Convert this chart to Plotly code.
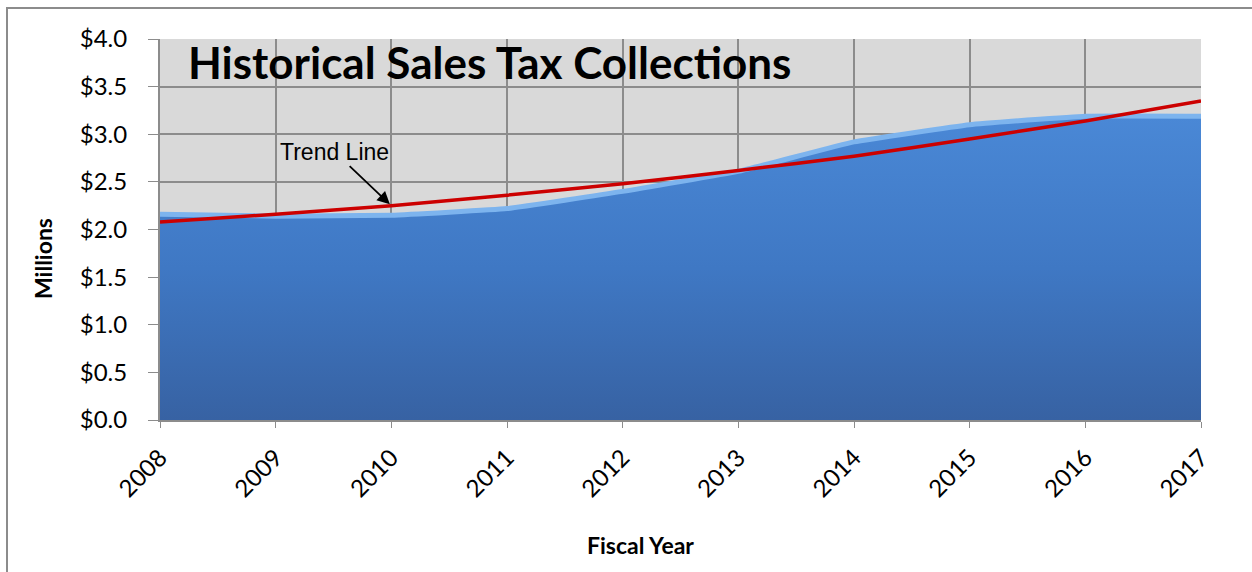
import plotly.graph_objects as go

years = [2008, 2009, 2010, 2011, 2012, 2013, 2014, 2015, 2016, 2017]
collections = [2.16, 2.14, 2.15, 2.22, 2.40, 2.61, 2.92, 3.10, 3.19, 3.19]
trend = [2.08, 2.16, 2.25, 2.36, 2.48, 2.62, 2.77, 2.95, 3.14, 3.35]
y_ticks = [0, 0.5, 1.0, 1.5, 2.0, 2.5, 3.0, 3.5, 4.0]
y_tick_labels = ["$0.0", "$0.5", "$1.0", "$1.5", "$2.0", "$2.5", "$3.0", "$3.5", "$4.0"]

W, H = 1252, 572
ml, mr, mt, mb = 160, 51, 39, 152
pw, ph = W - ml - mr, H - mt - mb

def px_x(x):
    return (x - ml) / pw

def px_y(y):
    return (H - mb - y) / ph

fig = go.Figure()

fig.add_trace(go.Scatter(
    x=years, y=collections, mode="lines",
    line=dict(color="#7db4ee", width=5, shape="spline", smoothing=0.3),
    fill="tozeroy",
    fillgradient=dict(type="vertical",
                      colorscale=[[0, "#3762a3"], [0.5, "#3f78c4"], [1, "#4a88d6"]]),
    hoverinfo="skip", showlegend=False,
))

fig.add_trace(go.Scatter(
    x=years, y=trend, mode="lines",
    line=dict(color="#cc0000", width=3.5, shape="spline", smoothing=0.6),
    showlegend=False,
))

fig.update_layout(
    width=W, height=H,
    margin=dict(l=ml, r=mr, t=mt, b=mb),
    paper_bgcolor="white",
    plot_bgcolor="#d9d9d9",
    font=dict(family="Lato, Carlito, Calibri, sans-serif", color="black"),
    showlegend=False,
    xaxis=dict(
        range=[2008, 2017], tickmode="array", tickvals=years,
        ticktext=[str(y) for y in years],
        tickangle=-45, tickfont=dict(size=24),
        showgrid=True, gridcolor="#8c8c8c", gridwidth=1.5,
        showline=True, linecolor="#8c8c8c", linewidth=2,
        ticks="outside", ticklen=6, tickcolor="#8c8c8c",
        ticklabelstandoff=6,
        zeroline=False,
    ),
    yaxis=dict(
        range=[0, 4.0], tickmode="array", tickvals=y_ticks, ticktext=y_tick_labels,
        tickfont=dict(size=24),
        showgrid=True, gridcolor="#8c8c8c", gridwidth=1.5,
        showline=True, linecolor="#8c8c8c", linewidth=2,
        ticks="outside", ticklen=10, tickcolor="#8c8c8c",
        ticklabelstandoff=16,
        zeroline=False,
    ),
    shapes=[
        dict(type="rect", xref="paper", yref="paper",
             x0=px_x(7), x1=px_x(1262), y0=px_y(582), y1=px_y(8),
             line=dict(color="#8c8c8c", width=2), fillcolor="rgba(0,0,0,0)",
             layer="below"),
    ],
    annotations=[
        dict(text="<b>Historical Sales Tax Collections</b>", xref="paper", yref="paper",
             x=px_x(186), y=px_y(62), xanchor="left", yanchor="middle",
             showarrow=False, font=dict(size=44, family="Lato, Carlito, sans-serif")),
        dict(text="Trend Line", x=2010, y=2.25, xref="x", yref="y",
             ax=-57, ay=-54, showarrow=True, arrowhead=2, arrowsize=1.4,
             arrowwidth=1.8, arrowcolor="black", standoff=2,
             font=dict(size=23, family="Liberation Sans, Arial, sans-serif")),
        dict(text="<b>Fiscal Year</b>", xref="paper", yref="paper",
             x=px_x(640), y=px_y(545), xanchor="center", yanchor="middle",
             showarrow=False, font=dict(size=23)),
        dict(text="<b>Millions</b>", xref="paper", yref="paper",
             x=px_x(43), y=px_y(259), xanchor="center", yanchor="middle",
             textangle=-90, showarrow=False, font=dict(size=23)),
    ],
)

fig.write_html("out.html")
